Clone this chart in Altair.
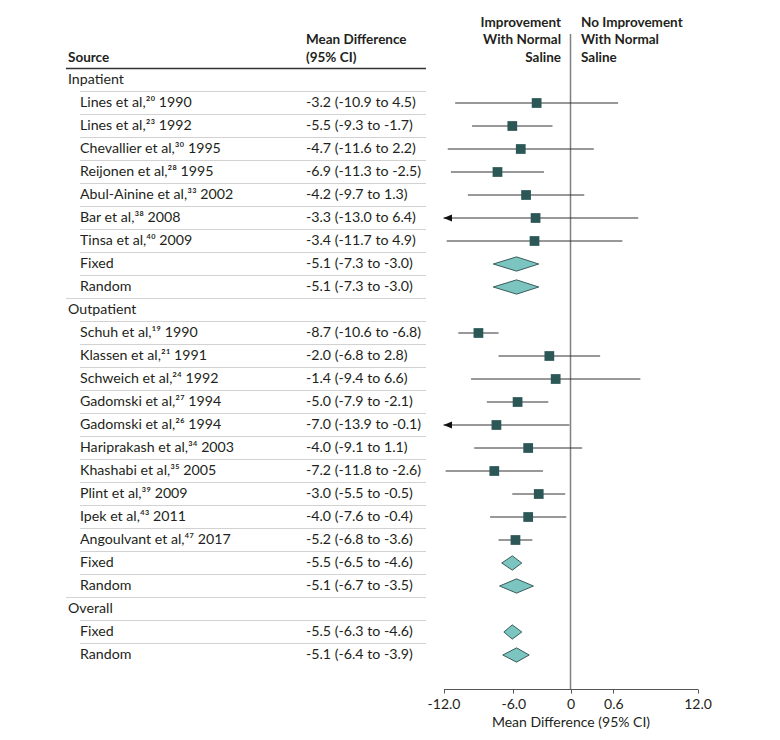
import altair as alt
import pandas as pd

# ---------------- data ----------------
sources = [
    "Inpatient",
    "Lines et al,²⁰ 1990", "Lines et al,²³ 1992", "Chevallier et al,³⁰ 1995",
    "Reijonen et al,²⁸ 1995", "Abul-Ainine et al,³³ 2002", "Bar et al,³⁸ 2008",
    "Tinsa et al,⁴⁰ 2009", "Fixed", "Random",
    "Outpatient",
    "Schuh et al,¹⁹ 1990", "Klassen et al,²¹ 1991", "Schweich et al,²⁴ 1992",
    "Gadomski et al,²⁷ 1994", "Gadomski et al,²⁶ 1994", "Hariprakash et al,³⁴ 2003",
    "Khashabi et al,³⁵ 2005", "Plint et al,³⁹ 2009", "Ipek et al,⁴³ 2011",
    "Angoulvant et al,⁴⁷ 2017", "Fixed", "Random",
    "Overall", "Fixed", "Random",
]
kinds = (["group"] + ["study"] * 7 + ["summary"] * 2
         + ["group"] + ["study"] * 10 + ["summary"] * 2
         + ["group"] + ["summary"] * 2)
md = [None, -3.2, -5.5, -4.7, -6.9, -4.2, -3.3, -3.4, -5.1, -5.1,
      None, -8.7, -2.0, -1.4, -5.0, -7.0, -4.0, -7.2, -3.0, -4.0, -5.2, -5.5, -5.1,
      None, -5.5, -5.1]
lo = [None, -10.9, -9.3, -11.6, -11.3, -9.7, -13.0, -11.7, -7.3, -7.3,
      None, -10.6, -6.8, -9.4, -7.9, -13.9, -9.1, -11.8, -5.5, -7.6, -6.8, -6.5, -6.7,
      None, -6.3, -6.4]
hi = [None, 4.5, -1.7, 2.2, -2.5, 1.3, 6.4, 4.9, -3.0, -3.0,
      None, -6.8, 2.8, 6.6, -2.1, -0.1, 1.1, -2.6, -0.5, -0.4, -3.6, -4.6, -3.5,
      None, -4.6, -3.9]

x_limit = [-12, 12]
tick_values = [-12, -5.4, 0, 4.05, 12]
tick_labels = ["-12.0", "-6.0", "0", "0.6", "12.0"]

FONT = "Lato"
TXT = "#231f20"
BODY = 14.2
HEAD = 13.5

# ---------------- tables ----------------
rows = []
for i, (s, k, m, l, h) in enumerate(zip(sources, kinds, md, lo, hi)):
    ci = "" if m is None else f"{m:.1f} ({l:.1f} to {h:.1f})"
    rows.append(dict(row=i, source=s, kind=k, md=m, lo=l, hi=h, ci=ci,
                     indent=0 if k == "group" else 1,
                     lo_c=None if l is None else max(l, x_limit[0]),
                     arrow=(l is not None and l < x_limit[0])))
df = pd.DataFrame(rows)
studies = df[df.kind == "study"]
arrows = df[df.arrow]

half = 0.31
dia = []
for _, r in df[df.kind == "summary"].iterrows():
    dia += [dict(row=r.row, x=r.lo, y1=r.row, y2=r.row),
            dict(row=r.row, x=r.md, y1=r.row - half, y2=r.row + half),
            dict(row=r.row, x=r.hi, y1=r.row, y2=r.row)]
dia = pd.DataFrame(dia)

borders = df[df.row > 0]

label_expr = " : ".join(f"datum.value == {v} ? '{t}'" for v, t in zip(tick_values, tick_labels)) + " : ''"

xscale = alt.Scale(domain=x_limit, range=[435.5, 689.5], nice=False, zero=False)
yscale = alt.Scale(domain=[0, 25], range=[72, 647], nice=False, zero=False)
xaxis = alt.Axis(values=tick_values, labelExpr=label_expr, title="Mean Difference (95% CI)",
                 grid=False, tickSize=4, domainColor="#555", tickColor="#555",
                 labelFont=FONT, labelFontSize=14, labelColor=TXT, labelPadding=4,
                 titleFont=FONT, titleFontSize=14, titleFontWeight="normal",
                 titleColor=TXT, titlePadding=4, labelFlush=False)

def X(field):
    return alt.X(field, type="quantitative", scale=xscale, axis=xaxis)

def Y(field="row"):
    return alt.Y(field, type="quantitative", scale=yscale, axis=None)

base = alt.Chart(df)

# separators
sep_group = alt.Chart(borders[borders.indent == 0]).mark_rule(color="#d2d2d2", strokeWidth=1).encode(
    x=alt.value(58), x2=alt.value(418), y=alt.Y("yb:Q", scale=yscale, axis=None)
).transform_calculate(yb="datum.row - 0.5")
sep_ind = alt.Chart(borders[borders.indent == 1]).mark_rule(color="#d2d2d2", strokeWidth=1).encode(
    x=alt.value(72), x2=alt.value(418), y=alt.Y("yb:Q", scale=yscale, axis=None)
).transform_calculate(yb="datum.row - 0.5")
header_line = alt.Chart(df.head(1)).mark_rule(color="#333", strokeWidth=1.5).encode(
    x=alt.value(58), x2=alt.value(418), y=alt.Y("yb:Q", scale=yscale, axis=None)
).transform_calculate(yb="datum.row - 0.5")

# text columns
txt_group = alt.Chart(df[df.indent == 0]).mark_text(
    align="left", baseline="middle", font=FONT, fontSize=BODY, color=TXT).encode(
    x=alt.value(60), y=Y(), text="source:N")
txt_ind = alt.Chart(df[df.indent == 1]).mark_text(
    align="left", baseline="middle", font=FONT, fontSize=BODY, color=TXT).encode(
    x=alt.value(72), y=Y(), text="source:N")
txt_ci = base.mark_text(
    align="left", baseline="middle", font=FONT, fontSize=BODY, color=TXT).encode(
    x=alt.value(298), y=Y(), text="ci:N")

# headers
def header(text, x, y, align="left"):
    return alt.Chart(pd.DataFrame({"t": [text]})).mark_text(
        align=align, baseline="middle", font=FONT, fontSize=HEAD, fontWeight="bold", color=TXT
    ).encode(x=alt.value(x), y=alt.value(y), text="t:N")

headers = [
    header("Source", 60, 50),
    header("Mean Difference", 298, 32),
    header("(95% CI)", 298, 50),
    header("Improvement", 553, 15, "right"),
    header("With Normal", 553, 32, "right"),
    header("Saline", 553, 50, "right"),
    header("No Improvement", 573, 15),
    header("With Normal", 573, 32),
    header("Saline", 573, 50),
]

# null line
zero_line = alt.Chart(pd.DataFrame({"z": [0]})).mark_rule(color="#808080", strokeWidth=1.5).encode(
    x=X("z"), y=alt.value(26), y2=alt.value(681))

# CI lines, arrows, squares
ci_lines = alt.Chart(studies).mark_rule(color="#333", strokeWidth=1).encode(
    x=X("lo_c"), x2="hi:Q", y=Y())
arrow_marks = alt.Chart(arrows).mark_point(
    shape="M0,0 L2,-0.8 L2,0.8 Z", filled=True, color="#111", size=72, opacity=1).encode(
    x=X("lo_c"), y=Y())
squares = alt.Chart(studies).mark_square(color="#2b5857", size=95, opacity=1).encode(
    x=X("md"), y=Y())

# diamonds
diamonds = alt.Chart(dia).mark_area(fill="#7cc4c0", stroke="#2f4f4f", strokeWidth=0.9,
                                    fillOpacity=1, orient="vertical").encode(
    x=X("x"), y=Y("y1"), y2="y2:Q", detail="row:N")

chart = alt.layer(
    sep_group, sep_ind, header_line, txt_group, txt_ind, txt_ci, *headers,
    zero_line, ci_lines, arrow_marks, squares, diamonds
).properties(width=760, height=681).configure(padding=0).configure_view(stroke=None)

chart.save("out.html", embed_options={"renderer": "svg", "actions": False})
